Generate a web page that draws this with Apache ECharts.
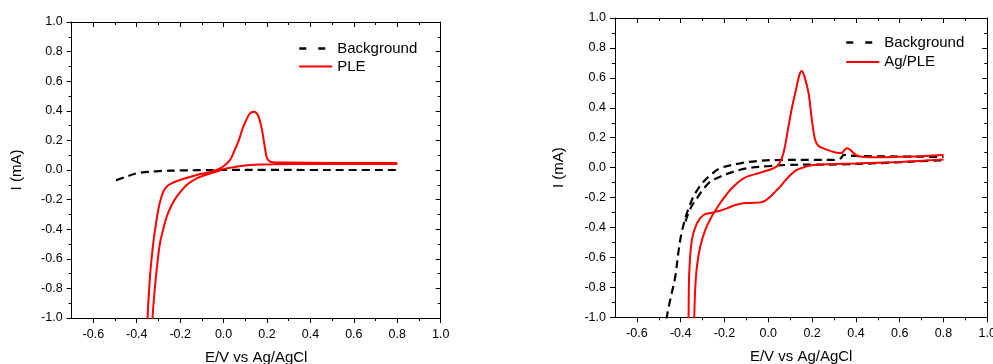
<!DOCTYPE html>
<html>
<head>
<meta charset="utf-8">
<title>CV curves</title>
<script src="https://cdn.jsdelivr.net/npm/echarts@6/dist/echarts.min.js"></script>
<style>
  html, body { margin: 0; padding: 0; background: #fff; }
  #chart { width: 993px; height: 364px; }
</style>
</head>
<body>
<div id="chart"></div>
<script>
// tick positions (same for both panels)
const xTicks = [-0.6, -0.4, -0.2, 0.0, 0.2, 0.4, 0.6, 0.8, 1.0];
const xMinorTicks = [-0.5, -0.3, -0.1, 0.1, 0.3, 0.5, 0.7, 0.9];
const yTicks = [-1.0, -0.8, -0.6, -0.4, -0.2, 0.0, 0.2, 0.4, 0.6, 0.8, 1.0];
const yMinorTicks = [-0.9, -0.7, -0.5, -0.3, -0.1, 0.1, 0.3, 0.5, 0.7, 0.9];

// left panel: [E (V), I (mA)]
const bgLeft = [
  [-0.495, -0.07], [-0.45, -0.046], [-0.4, -0.022], [-0.35, -0.013], [-0.3, -0.007],
  [-0.2, -0.003], [-0.1, -0.001], [0.0, 0.0], [0.2, 0.001], [0.4, 0.0], [0.6, 0.0], [0.8, 0.0]
];
const pleLeft = [
  [0.8, 0.041], [0.6, 0.040], [0.4, 0.040], [0.25, 0.039], [0.122, 0.034], [0.06, 0.022],
  [0.0, 0.006], [-0.032, -0.011], [-0.08, -0.032], [-0.124, -0.056], [-0.17, -0.101],
  [-0.216, -0.180], [-0.24, -0.24], [-0.262, -0.316], [-0.278, -0.40], [-0.293, -0.495],
  [-0.305, -0.63], [-0.316, -0.789], [-0.327, -0.991], [-0.33, -1.1],
  [-0.352, -1.1], [-0.350, -0.991], [-0.339, -0.721], [-0.324, -0.495], [-0.312, -0.37],
  [-0.301, -0.270], [-0.29, -0.2], [-0.278, -0.147], [-0.262, -0.112], [-0.247, -0.095],
  [-0.201, -0.068], [-0.124, -0.034], [-0.07, -0.016], [-0.032, 0.0], [0.0, 0.025],
  [0.03, 0.068], [0.045, 0.113], [0.07, 0.2], [0.091, 0.293], [0.12, 0.38], [0.14, 0.394],
  [0.158, 0.372], [0.174, 0.293], [0.185, 0.2], [0.199, 0.085], [0.212, 0.058], [0.235, 0.051],
  [0.3, 0.050], [0.5, 0.048], [0.8, 0.047]
];

// right panel
const bgRightOuter = [
  [-0.47, -1.1], [-0.463, -0.996], [-0.448, -0.884], [-0.425, -0.729], [-0.41, -0.56],
  [-0.398, -0.45], [-0.385, -0.37], [-0.372, -0.305], [-0.357, -0.245], [-0.342, -0.194],
  [-0.32, -0.14], [-0.296, -0.094], [-0.26, -0.045], [-0.22, -0.004], [-0.128, 0.029],
  [-0.037, 0.046], [0.054, 0.051], [0.2, 0.052], [0.3, 0.052], [0.33, 0.062], [0.345, 0.085],
  [0.4, 0.078], [0.8, 0.072]
];
const bgRightInner = [
  [-0.378, -0.36], [-0.364, -0.3], [-0.345, -0.245], [-0.326, -0.205], [-0.3, -0.15],
  [-0.265, -0.094], [-0.22, -0.06], [-0.182, -0.038], [-0.098, -0.004], [0.009, 0.011],
  [0.085, 0.018], [0.2, 0.02], [0.33, 0.022], [0.5, 0.03], [0.8, 0.05]
];
const agPleRight = [
  [0.8, 0.055], [0.6, 0.038], [0.4, 0.028], [0.3, 0.024], [0.206, 0.018], [0.17, 0.006],
  [0.13, -0.015], [0.101, -0.049], [0.075, -0.09], [0.054, -0.127], [0.032, -0.16],
  [0.009, -0.194], [-0.015, -0.222], [-0.037, -0.232], [-0.075, -0.236], [-0.113, -0.238],
  [-0.15, -0.25], [-0.189, -0.272], [-0.22, -0.288], [-0.258, -0.301], [-0.296, -0.316],
  [-0.326, -0.372], [-0.349, -0.483], [-0.361, -0.706], [-0.364, -0.996], [-0.365, -1.1],
  [-0.339, -1.1], [-0.338, -0.996], [-0.334, -0.818], [-0.326, -0.662], [-0.311, -0.528],
  [-0.288, -0.417], [-0.265, -0.345], [-0.25, -0.305], [-0.22, -0.238], [-0.174, -0.149],
  [-0.113, -0.071], [-0.037, -0.034], [0.024, -0.004], [0.047, 0.02], [0.069, 0.096],
  [0.092, 0.274], [0.108, 0.4], [0.123, 0.497], [0.142, 0.62], [0.153, 0.646], [0.165, 0.61],
  [0.184, 0.497], [0.199, 0.318], [0.214, 0.185], [0.23, 0.145], [0.252, 0.129], [0.313, 0.1],
  [0.335, 0.098], [0.348, 0.118], [0.359, 0.129], [0.375, 0.118], [0.395, 0.09], [0.42, 0.075],
  [0.511, 0.069], [0.65, 0.074], [0.8, 0.085]
];

const font = 'Liberation Sans, Arial, sans-serif';
const black = '#000';
const red = '#ff0000';
const dash = [8, 5];

const chart = echarts.init(document.getElementById('chart'), null, { renderer: 'canvas' });

const grids = [
  { left: 71.6, top: 22, width: 369.1, height: 296, nameGapY: 47 },
  { left: 615, top: 18, width: 372.3, height: 299.3, nameGapY: 49 }
];

function tickAxis(gridIndex, dim, position, values, len, inside, withLine) {
  const isX = dim === 'x';
  return {
    type: 'value', gridIndex, position,
    min: isX ? -0.7 : -1.0, max: 1.0,
    splitLine: { show: false },
    axisLine: { show: withLine, onZero: false, lineStyle: { color: black, width: 1 } },
    axisTick: { show: true, inside, length: len, customValues: values, lineStyle: { color: black, width: 1 } },
    axisLabel: { show: false }
  };
}

const xAxis = [], yAxis = [];
grids.forEach((g, i) => {
  const xMain = tickAxis(i, 'x', 'bottom', xTicks, 5, false, true);
  xMain.name = 'E/V vs Ag/AgCl';
  xMain.nameLocation = 'middle';
  xMain.nameGap = 32;
  xMain.nameTextStyle = { fontFamily: font, fontSize: 15, color: black };
  xMain.axisLabel = {
    show: true, customValues: xTicks, margin: 10,
    fontFamily: font, fontSize: 12.5, color: black,
    formatter: v => v.toFixed(1)
  };
  xAxis.push(
    xMain,
    tickAxis(i, 'x', 'bottom', xMinorTicks, 3, false, false),
    tickAxis(i, 'x', 'top', xTicks, 5, true, true),
    tickAxis(i, 'x', 'top', xMinorTicks, 3, true, false)
  );

  const yMain = tickAxis(i, 'y', 'left', yTicks, 5, false, true);
  yMain.name = 'I (mA)';
  yMain.nameLocation = 'middle';
  yMain.nameGap = g.nameGapY;
  yMain.nameTextStyle = { fontFamily: font, fontSize: 15, color: black };
  yMain.axisLabel = {
    show: true, customValues: yTicks, margin: 9,
    fontFamily: font, fontSize: 12.5, color: black,
    formatter: v => v.toFixed(1)
  };
  yAxis.push(
    yMain,
    tickAxis(i, 'y', 'left', yMinorTicks, 3, false, false),
    tickAxis(i, 'y', 'right', yTicks, 5, true, true),
    tickAxis(i, 'y', 'right', yMinorTicks, 3, true, false)
  );
});

function curve(name, data, gridIndex, color, type, width) {
  return {
    name, type: 'line', data,
    xAxisIndex: gridIndex * 4, yAxisIndex: gridIndex * 4,
    symbol: 'none', smooth: 0.35, clip: true,
    lineStyle: { color, type, width },
    itemStyle: { color },
    emphasis: { disabled: true },
    silent: true
  };
}

const series = [
  curve('Background', bgLeft, 0, black, dash, 2.2),
  curve('PLE', pleLeft, 0, red, 'solid', 2),
  curve('Background', bgRightOuter, 1, black, dash, 2.2),
  curve('Background', bgRightInner, 1, black, dash, 2.2),
  curve('Ag/PLE', agPleRight, 1, red, 'solid', 2)
];

// legend: line sample only, no marker in the middle
function legendAt(left, top, gap, names) {
  return {
    left, top, orient: 'vertical', padding: 0,
    itemWidth: 33, itemHeight: 14, itemGap: gap,
    itemStyle: { opacity: 0, borderWidth: 0 },
    textStyle: { fontFamily: font, fontSize: 15, color: black },
    selectedMode: false,
    data: [
      { name: names[0], lineStyle: { type: [7, 12], width: 2.5 } },
      { name: names[1] }
    ]
  };
}

chart.setOption({
  animation: false,
  backgroundColor: '#fff',
  grid: grids.map(g => ({
    left: g.left, top: g.top, width: g.width, height: g.height,
    containLabel: false, outerBoundsMode: 'none'
  })),
  xAxis,
  yAxis,
  legend: [
    legendAt(298, 41, 3, ['Background', 'PLE']),
    legendAt(845, 35, 4.5, ['Background', 'Ag/PLE'])
  ],
  series
});
</script>
</body>
</html>
